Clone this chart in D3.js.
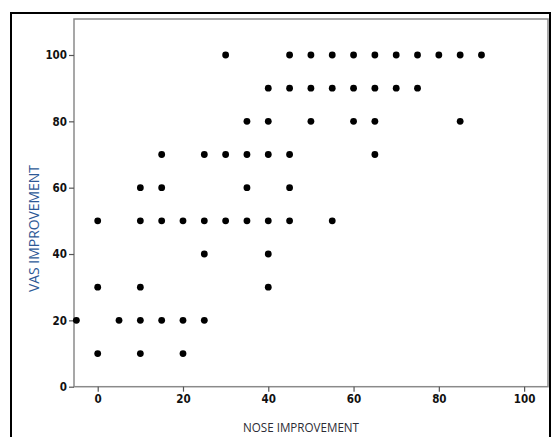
<!DOCTYPE html>
<html>
<head>
<meta charset="utf-8">
<script src="https://cdn.jsdelivr.net/npm/d3@7"></script>
<style>
  html, body { margin: 0; padding: 0; background: #fff; }
  svg { display: block; }
</style>
</head>
<body>
<svg id="chart" width="554" height="437"></svg>
<script>
// Data: NOSE improvement (x) vs VAS improvement (y)
const noseImprovement = [
  30,45,50,55,60,65,70,75,80,85,90,
  40,45,50,55,60,65,70,75,
  35,40,50,60,65,85,
  15,25,30,35,40,45,65,
  10,15,35,45,
  0,10,15,20,25,30,35,40,45,55,
  25,40,
  0,10,40,
  -5,5,10,15,20,25,
  0,10,20
];
const vasImprovement = [
  100,100,100,100,100,100,100,100,100,100,100,
  90,90,90,90,90,90,90,90,
  80,80,80,80,80,80,
  70,70,70,70,70,70,70,
  60,60,60,60,
  50,50,50,50,50,50,50,50,50,50,
  40,40,
  30,30,30,
  20,20,20,20,20,20,
  10,10,10
];
const xTicks = [0, 20, 40, 60, 80, 100];
const yTicks = [0, 20, 40, 60, 80, 100];
const xTitle = "NOSE IMPROVEMENT";
const yTitle = "VAS IMPROVEMENT";

const svg = d3.select("#chart");

// Outer black frame (open at bottom)
svg.append("path")
  .attr("d", "M11,437 L11,13 L550,13 L550,437")
  .attr("fill", "none").attr("stroke", "#000").attr("stroke-width", 2);

const plot = { left: 74, right: 548, top: 19, bottom: 386.7 };
const x = d3.scaleLinear().domain([-5.56, 105.6]).range([plot.left, plot.right]);
const y = d3.scaleLinear().domain([0, 110.85]).range([plot.bottom, plot.top]);

// Plot frame
svg.append("rect")
  .attr("x", plot.left).attr("y", plot.top)
  .attr("width", plot.right - plot.left).attr("height", plot.bottom - plot.top)
  .attr("fill", "none").attr("stroke", "#8a8a8a").attr("stroke-width", 1.5);

const tickFont = "'Liberation Sans Narrow','DejaVu Sans Condensed','Arial Narrow',sans-serif";

const xAxis = svg.append("g")
  .attr("transform", `translate(0,${plot.bottom})`)
  .call(d3.axisBottom(x).tickValues(xTicks).tickSize(5).tickPadding(3).tickFormat(d3.format("d")));
const yAxis = svg.append("g")
  .attr("transform", `translate(${plot.left},0)`)
  .call(d3.axisLeft(y).tickValues(yTicks).tickSize(5).tickPadding(2).tickFormat(d3.format("d")));

[xAxis, yAxis].forEach(g => {
  g.select(".domain").remove();
  g.selectAll(".tick line").attr("stroke", "#555").attr("stroke-width", 1.2);
  g.selectAll(".tick text")
    .attr("fill", "#111")
    .style("font-family", tickFont)
    .style("font-weight", "bold")
    .style("font-size", "11.5px");
});

// Points
const pts = noseImprovement.map((v, i) => [v, vasImprovement[i]]);
svg.append("g").selectAll("circle")
  .data(pts).join("circle")
  .attr("cx", d => x(d[0]))
  .attr("cy", d => y(d[1]))
  .attr("r", 3.4)
  .attr("fill", "#000");

// Axis titles
svg.append("text")
  .attr("x", 301).attr("y", 432)
  .attr("text-anchor", "middle")
  .attr("fill", "#2b2b33")
  .attr("textLength", 116)
  .attr("lengthAdjust", "spacingAndGlyphs")
  .style("font-family", "'Open Sans','Noto Sans',sans-serif")
  .style("font-size", "13.5px")
  .text(xTitle);

svg.append("text")
  .attr("transform", "translate(38.5,228.5) rotate(-90)")
  .attr("text-anchor", "middle")
  .attr("fill", "#2d5996")
  .attr("textLength", 127)
  .attr("lengthAdjust", "spacingAndGlyphs")
  .style("font-family", "'Open Sans','Noto Sans',sans-serif")
  .style("font-size", "14.5px")
  .text(yTitle);
</script>
</body>
</html>
